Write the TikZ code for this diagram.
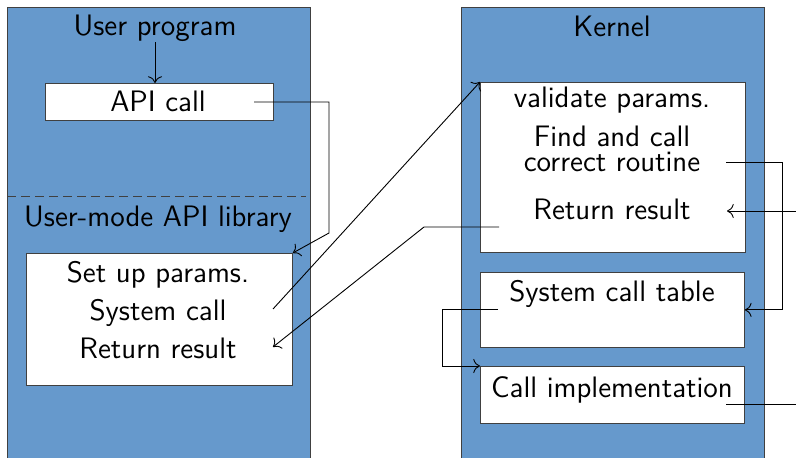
\documentclass[tikz,border=0pt]{standalone}
\usepackage{tikz}
\usetikzlibrary{calc,arrows.meta}
\definecolor{panelblue}{RGB}{102,153,204}
\tikzset{
	panel/.style={draw=black!75, fill=panelblue},
	box/.style={draw=black!75, fill=white, inner sep=0pt, anchor=north west},
	lbl/.style={font=\fontsize{14.8pt}{18pt}\selectfont\sffamily, anchor=base, inner sep=0pt},
	conn/.style={black, line width=0.45pt}
}

\begin{document}
\begin{tikzpicture}[x=0.5pt, y=-0.5pt, >={To[scale=1.3]}]
			%%%%% START %%%%%
			\useasboundingbox (0, 0) rectangle (796, 458);
			\clip (0, 0) rectangle (796, 458);
			
			% the two columns
			\draw[panel] (7, 7) rectangle (310, 480);
			\draw[panel] (461, 7) rectangle (764, 480);
			\draw[black!75, dash pattern=on 4.5pt off 2.5pt] (7, 196) -- (306, 196);
			
			% user side
			\node[lbl] (uprog) at (155, 36) {User program};
			\node[box, minimum width=114pt, minimum height=18.5pt] (api) at (45, 83) {};
			\node[lbl] (apitxt) at (158, 112) {API call};
			\node[lbl] (ulib) at (158, 227) {User-mode API library};
			\node[box, minimum width=133pt, minimum height=66pt] (lib) at (26, 253) {};
			\node[lbl] (setup) at (158, 283) {Set up params.};
			\node[lbl] (syscall) at (158, 321) {System call};
			\node[lbl] (uret) at (158, 358) {Return result};
			
			% kernel side
			\node[lbl] (kern) at (612, 37) {Kernel};
			\node[box, minimum width=132.5pt, minimum height=85pt] (kbox) at (480, 82) {};
			\node[lbl] (valid) at (612, 108) {validate params.};
			\node[lbl] (find) at (612, 147) {Find and call};
			\node[lbl] (routine) at (612, 172) {correct routine};
			\node[lbl] (kret) at (612, 220) {Return result};
			\node[box, minimum width=132pt, minimum height=37.5pt] (table) at (480, 272) {};
			\node[lbl] (tabtxt) at (612, 302) {System call table};
			\node[box, minimum width=132pt, minimum height=28.5pt] (impl) at (480, 366) {};
			\node[lbl] (impltxt) at (612, 397) {Call implementation};
			
			% end points of the connectors
			\coordinate (apiout) at (254, 102);
			\coordinate (callout) at (273, 309);
			\coordinate (retin) at (273, 347);
			\coordinate (kretout) at (499, 227);
			\coordinate (kretin) at (727, 211);
			\coordinate (findout) at (726, 162);
			\coordinate (tabout) at (498, 309);
			\coordinate (implout) at (726, 404);
			\coordinate (edgein) at (796, 211);
			\coordinate (edgeout) at (796, 404);
			
			% connectors
			\draw[conn, ->] (uprog.south) -- (uprog.south |- api.north);
			\draw[conn, ->] (apiout) -- (329, 102) -- (329, 233) -- (lib.north east);
			\draw[conn, ->] (callout) -- (kbox.north west);
			\draw[conn, ->] (kretout) -- (424, 227) -- (retin);
			\draw[conn, ->] (findout) -- (782, 162) |- (table.east);
			\draw[conn, ->] (edgein) -- (kretin);
			\draw[conn, ->] (tabout) -- (442, 309) |- (impl.north west);
			\draw[conn] (implout) -- (edgeout);
			
			%%%%% END %%%%%
		\end{tikzpicture}
\end{document}
